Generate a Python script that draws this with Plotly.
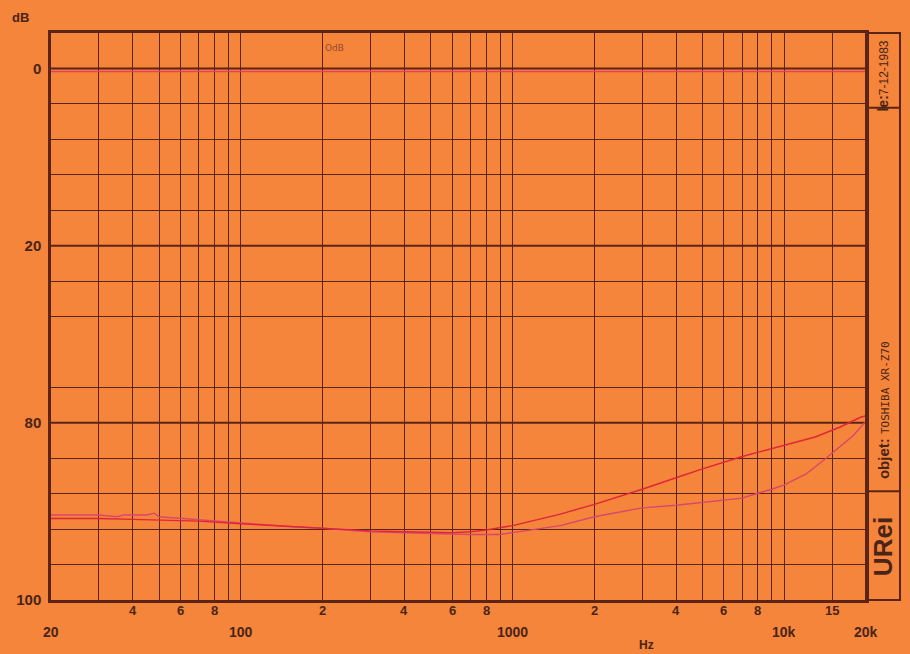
import numpy as np
import plotly.graph_objects as go

# grid of the chart paper
grid_freqs = [20, 30, 40, 50, 60, 70, 80, 90,
              100, 200, 300, 400, 500, 600, 700, 800, 900,
              1000, 2000, 3000, 4000, 5000, 6000, 7000, 8000, 9000,
              10000, 15000, 20000]
decade_freqs = [100, 1000, 10000]

# the scale is split: 0..20 dB on top, 80..100 dB below
level_labels = ["0", "20", "80", "100"]
level_label_pos = [0, 20, 40, 60]
level_grid = [-4, 0, 4, 8, 12, 16, 20, 24, 28, 36, 40, 44, 48, 52, 56, 60]

# x labels: small digits row and main row
minor_label_freqs = [40, 60, 80, 200, 400, 600, 800, 2000, 4000, 6000, 8000, 15000]
minor_label_text = ["4", "6", "8", "2", "4", "6", "8", "2", "4", "6", "8", "15"]
main_label_freqs = [20, 100, 1000, 10000, 20000]
main_label_text = ["20", "100", "1000", "10k", "20k"]

# reference 0 dB trace
ref_freqs = [20, 20000]
ref_level = [0.35, 0.35]

# measured curves (dB)
freq_a = [20, 30, 40, 50, 70, 100, 150, 200, 300, 400, 500, 600, 700, 800,
          1000, 1500, 2000, 3000, 4000, 5000, 7000, 10000, 13000, 16000, 19000, 20000]
level_a = [90.8, 90.8, 90.9, 91.0, 91.1, 91.4, 91.7, 91.9, 92.2, 92.3, 92.4, 92.4, 92.3, 92.1,
           91.6, 90.3, 89.2, 87.5, 86.2, 85.2, 83.8, 82.5, 81.6, 80.5, 79.4, 79.2]

freq_b = [20, 30, 35, 37, 45, 48, 50, 55, 60, 70, 100, 150, 200, 300, 400, 500, 600, 700,
          800, 900, 1000, 1500, 2000, 3000, 4000, 5000, 7000, 7500, 9000, 10000, 12000,
          14000, 16000, 18000, 20000]
level_b = [90.4, 90.4, 90.6, 90.4, 90.4, 90.2, 90.6, 90.7, 90.8, 91.0, 91.3, 91.7, 91.9,
           92.3, 92.4, 92.5, 92.6, 92.6, 92.6, 92.6, 92.4, 91.6, 90.6, 89.6, 89.3, 89.0,
           88.5, 88.2, 87.5, 87.0, 85.8, 84.2, 82.7, 81.4, 79.8]

PAPER = "#f4853a"
INK = "#5c2416"
TEXT = "#4a2418"
FONT = "Liberation Sans"


def to_axis(levels):
    # lower part of the paper (80..100 dB) sits right under 0..20 dB
    return [v - 40 if v >= 50 else v for v in levels]


fig = go.Figure()

fig.add_trace(go.Scatter(x=ref_freqs, y=to_axis(ref_level), mode="lines",
                         line=dict(color="#e8405a", width=1.5), hoverinfo="skip"))
fig.add_trace(go.Scatter(x=freq_b, y=to_axis(level_b), mode="lines",
                         line=dict(color="#d9466e", width=1.4)))
fig.add_trace(go.Scatter(x=freq_a, y=to_axis(level_a), mode="lines",
                         line=dict(color="#e0253a", width=1.4)))

# heavier decade / main level lines
for f in decade_freqs:
    fig.add_shape(type="line", xref="x", yref="paper", x0=np.log10(f), x1=np.log10(f),
                  y0=0, y1=1, line=dict(color=INK, width=2), layer="below")
for v in [0, 20, 40]:
    fig.add_shape(type="line", xref="paper", yref="y", x0=0, x1=1, y0=v, y1=v,
                  line=dict(color=INK, width=2), layer="below")

# side box with date / object / logo
bx = (900 - 51) / 815
fig.add_shape(type="rect", xref="paper", yref="paper", x0=1, x1=bx, y0=0, y1=1,
              line=dict(color=INK, width=2))
for yy in [0.868, 0.192]:
    fig.add_shape(type="line", xref="paper", yref="paper", x0=1, x1=bx, y0=yy, y1=yy,
                  line=dict(color=INK, width=2))

annotations = []
cx = (1 + bx) / 2


def side_text(y, text, size):
    return dict(x=cx, y=y, xref="paper", yref="paper", textangle=-90, text=text,
                showarrow=False, xanchor="center", yanchor="middle",
                font=dict(size=size, color=TEXT, family=FONT))


annotations.append(side_text(0.925, "<b>le:</b><span style='font-size:12px'>7-12-1983</span>", 14))
annotations.append(side_text(0.335, "<b>objet:</b> <span style='font-size:11px;font-family:DejaVu Sans Mono'>TOSHIBA XR-Z70</span>", 15))
annotations.append(side_text(0.095, "<b>URei</b>", 26))

for f, t in zip(minor_label_freqs, minor_label_text):
    annotations.append(dict(x=np.log10(f), y=-0.018, xref="x", yref="paper", text=t,
                            showarrow=False, xanchor="center", yanchor="middle",
                            font=dict(size=13, color=TEXT, family=FONT, weight="bold")))
for f, t in zip(main_label_freqs, main_label_text):
    annotations.append(dict(x=np.log10(f), y=-0.056, xref="x", yref="paper", text=t,
                            showarrow=False, xanchor="center", yanchor="middle",
                            font=dict(size=14, color=TEXT, family=FONT, weight="bold")))
annotations.append(dict(x=np.log10(3100), y=-0.079, xref="x", yref="paper", text="Hz",
                        showarrow=False, xanchor="center", yanchor="middle",
                        font=dict(size=12, color=TEXT, family=FONT, weight="bold")))
annotations.append(dict(x=-0.038, y=1.027, xref="paper", yref="paper", text="dB",
                        showarrow=False, xanchor="center", yanchor="middle",
                        font=dict(size=13, color=TEXT, family=FONT, weight="bold")))
annotations.append(dict(x=np.log10(222), y=-2.3, xref="x", yref="y", text="OdB",
                        showarrow=False, xanchor="center", yanchor="middle",
                        font=dict(size=9, color="#9a4a30", family="DejaVu Sans")))

fig.update_layout(
    width=910,
    height=654,
    margin=dict(l=51, r=44, t=33, b=54),
    paper_bgcolor=PAPER,
    plot_bgcolor=PAPER,
    showlegend=False,
    annotations=annotations,
)

fig.update_xaxes(
    type="log",
    range=[np.log10(20), np.log10(20000)],
    tickmode="array",
    tickvals=grid_freqs,
    showticklabels=False,
    ticks="",
    showgrid=True,
    gridcolor=INK,
    gridwidth=1,
    showline=True,
    linecolor=INK,
    linewidth=2.5,
    mirror=True,
    zeroline=False,
)

fig.update_yaxes(
    range=[60, -4],
    tickmode="array",
    tickvals=level_grid,
    ticktext=[level_labels[level_label_pos.index(v)] if v in level_label_pos else "" for v in level_grid],
    tickfont=dict(size=15, color=TEXT, family=FONT, weight="bold"),
    ticks="",
    ticklabelstandoff=4,
    showgrid=True,
    gridcolor=INK,
    gridwidth=1,
    showline=True,
    linecolor=INK,
    linewidth=2.5,
    mirror=True,
    zeroline=False,
)

fig.write_html("out.html", config={"displayModeBar": False},
               post_script="document.body.style.margin='0';")
